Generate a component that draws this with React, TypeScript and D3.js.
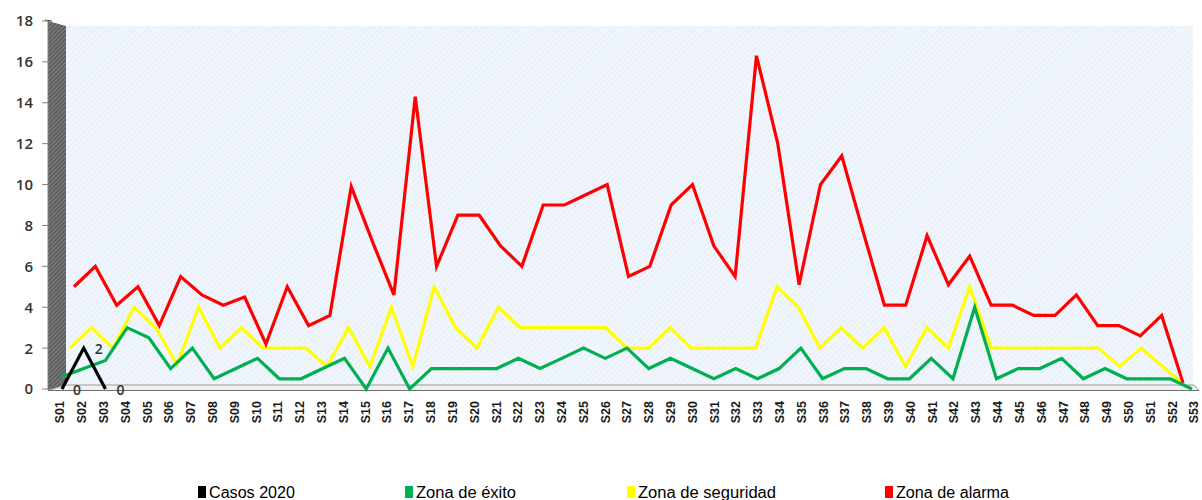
import React from 'react';
import * as d3 from 'd3';

const weeks = ['S01','S02','S03','S04','S05','S06','S07','S08','S09','S10','S11','S12','S13','S14','S15','S16','S17','S18','S19','S20','S21','S22','S23','S24','S25','S26','S27','S28','S29','S30','S31','S32','S33','S34','S35','S36','S37','S38','S39','S40','S41','S42','S43','S44','S45','S46','S47','S48','S49','S50','S51','S52','S53'];

const casos2020 = [0, 2, 0];

const zonaExito = [0.6,1.0,1.4,3.0,2.5,1.0,2.0,0.5,1.0,1.5,0.5,0.5,1.0,1.5,0,2.0,0,1,1,1,1,1.5,1,1.5,2,1.5,2,1,1.5,1,0.5,1,0.5,1,2,0.5,1,1,0.5,0.5,1.5,0.5,4,0.5,1,1,1.5,0.5,1,0.5,0.5,0.5,0];

const zonaSeguridad = [2,3,2,4,3,1.2,4,2,3,2,2,2,1.1,3,1.1,4,1.1,5,3,2,4,3,3,3,3,3,2,2,3,2,2,2,2,5,4,2,3,2,3,1.1,3,2,5,2,2,2,2,2,2,1.1,2,1.1,0.2];

const zonaAlarma = [5,6,4.1,5,3.1,5.5,4.6,4.1,4.5,2.2,5,3.1,3.6,9.9,7.2,4.6,14.3,6,8.5,8.5,7,6,9,9,9.5,10,5.5,6,9,10,7,5.5,16.3,12,5.1,10,11.4,7.7,4.1,4.1,7.5,5.1,6.5,4.1,4.1,3.6,3.6,4.6,3.1,3.1,2.6,3.6,0.3];

const yTicks = [0, 2, 4, 6, 8, 10, 12, 14, 16, 18];

const legendItems = ['Casos 2020', 'Zona de éxito', 'Zona de seguridad', 'Zona de alarma'];
const legendColors = ['#000000', '#00b050', '#ffff00', '#ff0000'];
const legendX = [198, 405, 627, 885];
const legendWidths = [86, 100, 138, 113];

export default function App() {
  const y = d3.scaleLinear().domain([0, 18]).range([389, 21]);
  const xLabel = d3.scalePoint<string>().domain(weeks).range([60, 1194]);
  const xFront = d3.scalePoint<string>().domain(weeks).range([62, 1192]);
  const xMid = d3.scalePoint<string>().domain(weeks).range([70, 1184]);
  const xBack = d3.scalePoint<string>().domain(weeks).range([74, 1183]);

  const mk = (xs: d3.ScalePoint<string>) =>
    d3.line<number>().x((_, i) => xs(weeks[i]) as number).y((d) => y(d));

  const series = [
    { data: zonaSeguridad, color: '#ffff00', xs: xMid },
    { data: zonaAlarma, color: '#ff0000', xs: xBack },
    { data: zonaExito, color: '#00b050', xs: xFront },
    { data: casos2020, color: '#000000', xs: xFront },
  ];

  return (
    <svg width={1202} height={500} style={{ position: 'absolute', left: 0, top: 0, background: '#fff' }}>
      <defs>
        <pattern id="backHatch" width="4" height="4" patternUnits="userSpaceOnUse" patternTransform="rotate(45)">
          <rect width="4" height="4" fill="#f1f6fd" />
          <line x1="0" y1="0" x2="0" y2="4" stroke="#e2eaf6" strokeWidth="1.5" />
        </pattern>
        <pattern id="wallHatch" width="3" height="3" patternUnits="userSpaceOnUse" patternTransform="rotate(45)">
          <rect width="3" height="3" fill="#5e5e5e" />
          <line x1="0" y1="0" x2="0" y2="3" stroke="#9a9a9a" strokeWidth="1.2" />
        </pattern>
      </defs>

      {/* back wall */}
      <rect x={66} y={26} width={1127} height={359} fill="url(#backHatch)" />
      {/* left wall */}
      <polygon points="48,21 66,26 66,385 48,390" fill="url(#wallHatch)" />
      <line x1={45} y1={20} x2={52} y2={21} stroke="#444" strokeWidth={1} />
      {/* floor */}
      <polygon points="48,390.5 66,385 1194,385 1199,390.5" fill="#f0f0f0" stroke="#9a9a9a" strokeWidth={1} />
      <line x1={48} y1={390.5} x2={1199} y2={390.5} stroke="#707070" strokeWidth={1.2} />

      {/* y axis */}
      <line x1={48} y1={21} x2={48} y2={390} stroke="#808080" strokeWidth={1} />
      {yTicks.map((t) => (
        <g key={t}>
          <line x1={42} x2={48} y1={y(t)} y2={y(t)} stroke="#808080" strokeWidth={1} />
          <text x={33} y={y(t)} dy="0.36em" textAnchor="end" fontFamily="'Open Sans', sans-serif" fontWeight={600} fontSize={15} fill="#333">
            {t}
          </text>
        </g>
      ))}

      {/* x labels */}
      {weeks.map((w) => (
        <text
          key={w}
          transform={`translate(${xLabel(w)},401) rotate(-90)`}
          textAnchor="end"
          dy="0.35em"
          fontFamily="'Liberation Sans', Arial, sans-serif"
          fontWeight="bold"
          fontSize={12.5}
          fill="#1a1a1a"
        >
          {w}
        </text>
      ))}

      {/* series */}
      {series.map((s, i) => (
        <path key={i} d={mk(s.xs)(s.data) || ''} fill="none" stroke={s.color} strokeWidth={3.2} strokeLinejoin="miter" />
      ))}

      {/* data labels for Casos 2020 */}
      {casos2020.map((v, i) => (
        <text
          key={i}
          x={(xFront(weeks[i]) as number) + 15}
          y={y(v) + 1}
          dy="0.36em"
          textAnchor="middle"
          fontFamily="'Open Sans', sans-serif"
          fontWeight={600}
          fontSize={14}
          fill="#333"
        >
          {v}
        </text>
      ))}

      {/* legend */}
      {legendItems.map((name, i) => (
        <g key={name}>
          <rect x={legendX[i]} y={486} width={8} height={12} fill={legendColors[i]} />
          <text
            x={legendX[i] + 11}
            y={498}
            fontFamily="'Liberation Sans', Arial, sans-serif"
            fontSize={16}
            fill="#000"
            textLength={legendWidths[i]}
            lengthAdjust="spacingAndGlyphs"
          >
            {name}
          </text>
        </g>
      ))}
    </svg>
  );
}
